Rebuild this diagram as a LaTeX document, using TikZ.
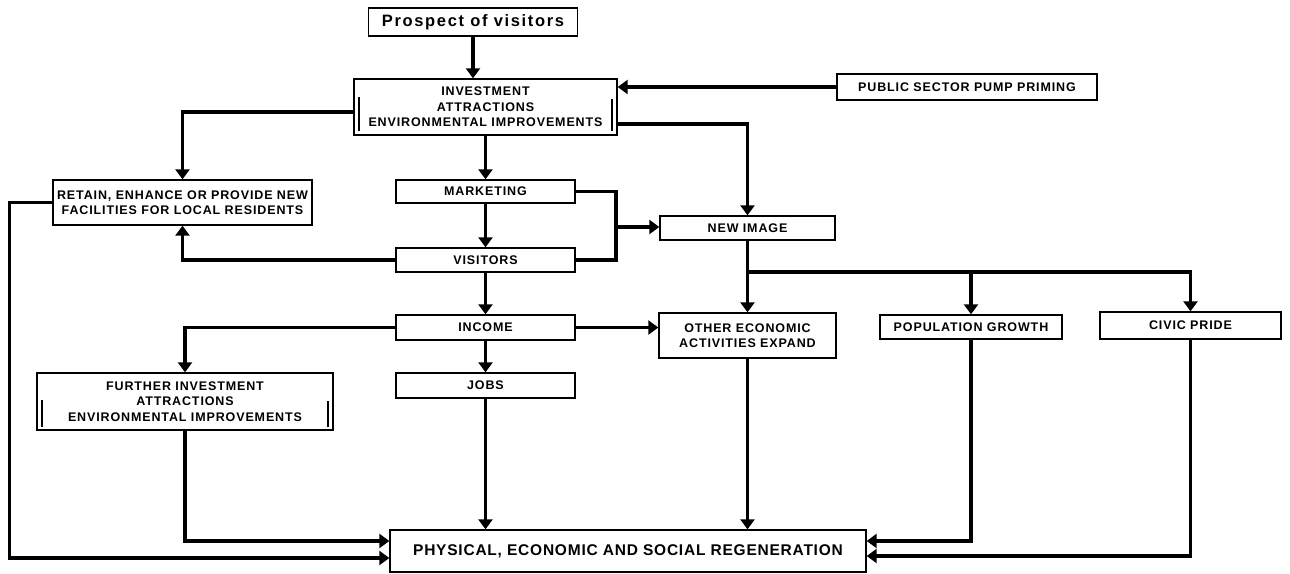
\documentclass[tikz,border=0pt]{standalone}
\usepackage{fontspec}
\setmainfont{Liberation Sans}
\usetikzlibrary{arrows.meta}
\begin{document}
\begin{tikzpicture}[x=1pt,y=-1pt,
  box/.style={draw, line width=1.4pt, inner sep=0pt, align=center,
    font=\bfseries\fontsize{12.5}{15.5}\selectfont\addfontfeature{LetterSpace=7}},
  flow/.style={line width=3.6pt, -{Triangle[width=14pt,length=10pt]}},
  link/.style={line width=3.6pt},
  bar/.style={line width=1.3pt}]
\useasboundingbox[fill=white] (0,0) rectangle (1290,573);
% boxes
\node[box, minimum width=209pt, minimum height=28pt, font=\bfseries\fontsize{16.5}{18}\selectfont\addfontfeature{LetterSpace=10}] (pros) at (473,22) {Prospect of visitors};
\node[box, minimum width=263pt, minimum height=56pt] (inv) at (485.5,107) {INVESTMENT\\ATTRACTIONS\\ENVIRONMENTAL IMPROVEMENTS};
\node[box, minimum width=260pt, minimum height=26pt] (pub) at (967,87) {PUBLIC SECTOR PUMP PRIMING};
\node[box, minimum width=259pt, minimum height=45pt] (ret) at (182.5,202.5) {RETAIN, ENHANCE OR PROVIDE NEW\\FACILITIES FOR LOCAL RESIDENTS};
\node[box, minimum width=179pt, minimum height=23pt] (mkt) at (485.5,191.5) {MARKETING};
\node[box, minimum width=179pt, minimum height=24pt] (vis) at (485.5,260) {VISITORS};
\node[box, minimum width=175pt, minimum height=24pt] (img) at (747.5,228) {NEW IMAGE};
\node[box, minimum width=179pt, minimum height=25pt] (inc) at (485.5,327.5) {INCOME};
\node[box, minimum width=177pt, minimum height=45pt] (oth) at (747.5,335.5) {OTHER ECONOMIC\\ACTIVITIES EXPAND};
\node[box, minimum width=182pt, minimum height=24pt] (pop) at (971,327) {POPULATION GROWTH};
\node[box, minimum width=181pt, minimum height=27pt] (civ) at (1190.5,325.5) {CIVIC PRIDE};
\node[box, minimum width=179pt, minimum height=25pt] (jobs) at (485.5,385.5) {JOBS};
\node[box, minimum width=296pt, minimum height=57pt] (fur) at (185,401.5) {FURTHER INVESTMENT\\ATTRACTIONS\\ENVIRONMENTAL IMPROVEMENTS};
\node[box, minimum width=476pt, minimum height=42pt, font=\bfseries\fontsize{15.5}{18}\selectfont\addfontfeature{LetterSpace=5}] (phys) at (628,551) {PHYSICAL, ECONOMIC AND SOCIAL REGENERATION};
% bracket bars
\draw[bar] (359,97) -- (359,131);
\draw[bar] (612,99) -- (612,131);
\draw[bar] (42,400) -- (42,427);
\draw[bar] (328,401) -- (328,427);
% connectors
\draw[flow] (pros.south) -- (pros.south |- inv.north);
\draw[flow] (pub.west) -- (pub.west -| inv.east);
\draw[flow] ([yshift=-5pt]inv.west) -| (ret.north);
\draw[flow] ([yshift=-17pt]inv.east) -| (img.north);
\draw[flow] (inv) -- (mkt);
\draw[flow] (mkt) -- (vis);
\coordinate (jn) at (616,227);
\draw[link] (mkt.east) -| (jn) |- (vis.east);
\draw[flow] (jn) -- (jn -| img.west);
\draw[flow] (vis.west) -| (ret.south);
\draw[flow] (vis) -- (inc);
\draw[flow] (inc.east) -- (inc.east -| oth.west);
\draw[flow] (inc.west) -| (fur.north);
\draw[flow] (inc) -- (jobs);
\draw[flow] (jobs) -- (jobs |- phys.north);
\draw[flow] (img) -- (oth);
\coordinate (br) at (747.5,272);
\draw[flow] (br) -| (civ.north);
\draw[flow] (br -| pop.north) -- (pop.north);
\draw[flow] (oth) -- (oth |- phys.north);
\draw[flow] (pop.south) |- ([yshift=10pt]phys.east);
\draw[flow] (civ.south) |- ([yshift=-5pt]phys.east);
\draw[flow] (fur.south) |- ([yshift=10pt]phys.west);
\draw[flow] (ret.west) -- ++(-43,0) |- ([yshift=-7pt]phys.west);
\end{tikzpicture}
\end{document}
